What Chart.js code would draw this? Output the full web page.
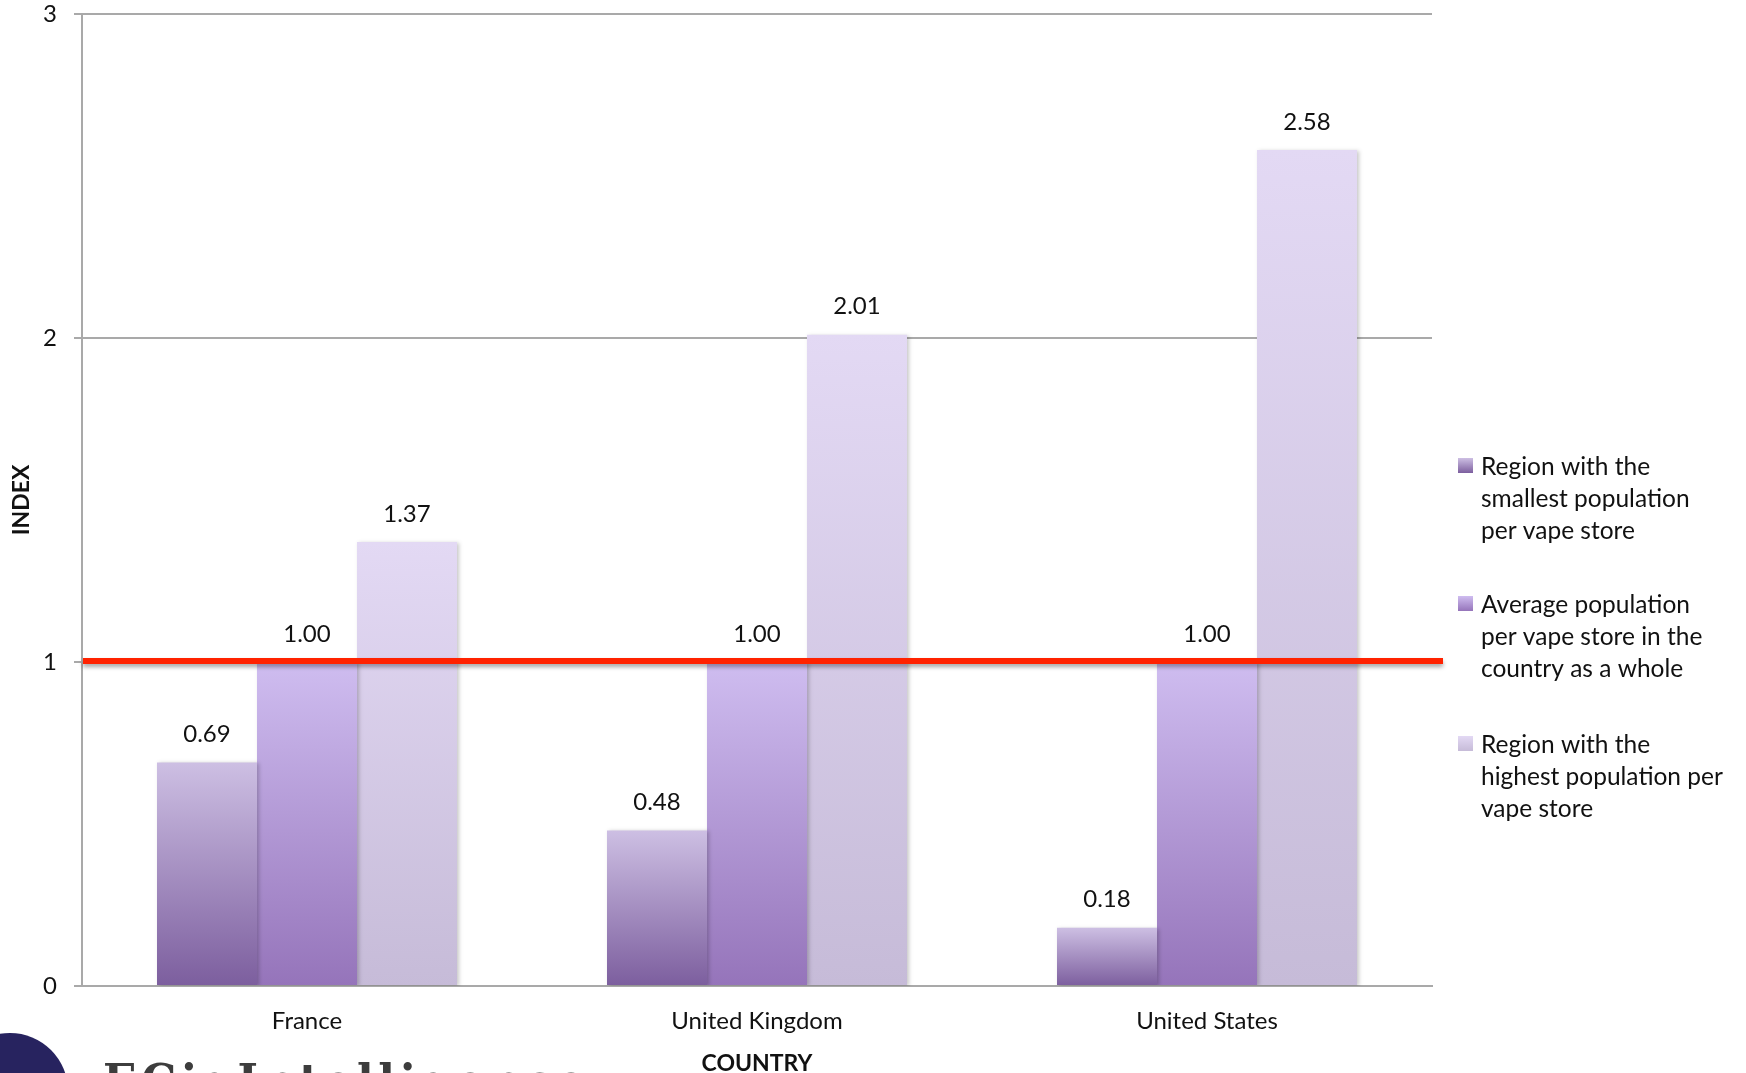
<!DOCTYPE html>
<html>
<head>
<meta charset="utf-8">
<script src="https://cdn.jsdelivr.net/npm/chart.js@4.4.1/dist/chart.umd.min.js"></script>
<style>
html,body{margin:0;padding:0;background:#ffffff;overflow:hidden}
#wrap{position:relative;width:1746px;height:1073px}
canvas{display:block}
</style>
</head>
<body>
<div id="wrap"><canvas id="c" width="1746" height="1073"></canvas></div>
<script>
// ---- data ----
const categories = ['France', 'United Kingdom', 'United States'];
const smallestRegion = [0.69, 0.48, 0.18];
const countryAverage = [1.00, 1.00, 1.00];
const highestRegion = [1.37, 2.01, 2.58];
const yTickValues = [0, 1, 2, 3];
const seriesLabels = [
  ['Region with the', 'smallest population', 'per vape store'],
  ['Average population', 'per vape store in the', 'country as a whole'],
  ['Region with the', 'highest population per', 'vape store']
];
const referenceValue = 1;
const xAxisTitle = 'COUNTRY';
const yAxisTitle = 'INDEX';
const logoText = 'ECigIntelligence';

// ---- styles ----
const FONT = 'Lato';
const GRID = '#a9a9a9';
const gradients = [
  ['#cdbfe3', '#7c5e9e'],
  ['#cfbdf0', '#9574ba'],
  ['#e3d9f4', '#c6bbd8']
];

function barGradient(idx) {
  return function (ctx) {
    const chart = ctx.chart;
    const [cTop, cBot] = gradients[idx];
    if (!chart.chartArea || ctx.type !== 'data') return cBot;
    const ys = chart.scales.y;
    const top = ys.getPixelForValue(ctx.raw);
    const bot = ys.getPixelForValue(0);
    if (!isFinite(top) || !isFinite(bot) || top === bot) return cBot;
    const g = chart.ctx.createLinearGradient(0, top, 0, bot);
    g.addColorStop(0, cTop);
    g.addColorStop(1, cBot);
    return g;
  };
}

const shadowPlugin = {
  id: 'shadows',
  beforeDatasetsDraw(chart) {
    const c = chart.ctx;
    c.save();
    c.shadowColor = 'rgba(0,0,0,0.22)';
    c.shadowBlur = 4;
    c.shadowOffsetX = 2;
    c.shadowOffsetY = 1;
  },
  afterDatasetsDraw(chart) {
    const c = chart.ctx;
    c.restore();
    const ys = chart.scales.y;
    const ca = chart.chartArea;
    // reference line
    const yRef = ys.getPixelForValue(referenceValue) - 1;
    c.save();
    c.shadowColor = 'rgba(0,0,0,0.35)';
    c.shadowBlur = 4;
    c.shadowOffsetY = 3;
    c.strokeStyle = '#ff2200';
    c.lineWidth = 6;
    c.beginPath();
    c.moveTo(ca.left + 1, yRef);
    c.lineTo(ca.right + 11, yRef);
    c.stroke();
    c.restore();
    // value labels
    c.save();
    c.font = '24px ' + FONT;
    c.fillStyle = '#111111';
    c.textAlign = 'center';
    c.textBaseline = 'middle';
    chart.data.datasets.forEach((ds, i) => {
      const meta = chart.getDatasetMeta(i);
      meta.data.forEach((el, j) => {
        c.fillText(Number(ds.data[j]).toFixed(2), el.x, el.y - 28);
      });
    });
    c.restore();
  }
};

const legendPlugin = {
  id: 'customLegend',
  afterDraw(chart) {
    const c = chart.ctx;
    const itemTops = [467, 605, 745];
    const lineH = 32;
    c.save();
    c.font = '24.5px ' + FONT;
    c.textAlign = 'left';
    c.textBaseline = 'middle';
    chart.data.datasets.forEach((ds, i) => {
      const y0 = itemTops[i];
      const bx = 1458, by = y0 - 9, bs = 15;
      const g = c.createLinearGradient(0, by, 0, by + bs);
      g.addColorStop(0, gradients[i][0]);
      g.addColorStop(1, gradients[i][1]);
      c.fillStyle = g;
      c.fillRect(bx, by, bs, bs);
      c.fillStyle = '#111111';
      ds.label.forEach((line, k) => {
        c.fillText(line, 1481, y0 + k * lineH);
      });
    });
    c.restore();
  }
};

const logoPlugin = {
  id: 'logo',
  afterDraw(chart) {
    const c = chart.ctx;
    c.save();
    c.fillStyle = '#27235f';
    c.beginPath();
    c.arc(10, 1091, 58, 0, Math.PI * 2);
    c.fill();
    c.font = 'bold 44px "DejaVu Serif"';
    c.letterSpacing = '0px';
    const w0 = c.measureText(logoText).width;
    const sp = (482 - w0) / (logoText.length - 1);
    c.letterSpacing = sp + 'px';
    const asc = c.measureText('E').actualBoundingBoxAscent;
    c.fillStyle = '#3d3d3d';
    c.textBaseline = 'alphabetic';
    c.textAlign = 'left';
    c.fillText(logoText, 103, 1063 + asc);
    c.restore();
  }
};

Chart.defaults.font.family = FONT;
Chart.defaults.color = '#111111';

new Chart(document.getElementById('c'), {
  type: 'bar',
  data: {
    labels: categories,
    datasets: [
      { label: seriesLabels[0], data: smallestRegion, backgroundColor: barGradient(0) },
      { label: seriesLabels[1], data: countryAverage, backgroundColor: barGradient(1) },
      { label: seriesLabels[2], data: highestRegion, backgroundColor: barGradient(2) }
    ]
  },
  options: {
    responsive: false,
    animation: false,
    devicePixelRatio: 1,
    layout: { padding: { top: 14, right: 314, bottom: 0, left: 0 } },
    datasets: { bar: { barPercentage: 1.0, categoryPercentage: 300 / 450, borderWidth: 0 } },
    plugins: { legend: { display: false }, tooltip: { enabled: false } },
    scales: {
      x: {
        grid: { display: false, drawTicks: false },
        border: { display: true, color: GRID, width: 2 },
        ticks: { padding: 21, font: { size: 24 }, color: '#111111' },
        title: { display: true, text: xAxisTitle, font: { size: 23, weight: 'bold' }, color: '#111111', padding: { top: 0, bottom: -4 } },
        afterFit(s) { s.height = 87; s.paddingLeft = 0; s.paddingRight = 0; }
      },
      y: {
        min: 0, max: 3,
        afterBuildTicks(s) { s.ticks = yTickValues.map(v => ({ value: v })); },
        grid: { color: GRID, lineWidth: 2, drawTicks: true, tickLength: 8, tickColor: GRID },
        border: { display: true, color: GRID, width: 2 },
        ticks: { padding: 17, font: { size: 24 }, color: '#111111', callback: v => String(v) },
        title: { display: true, text: yAxisTitle, font: { size: 23, weight: 'bold' }, color: '#111111', padding: { top: 8, bottom: 0 } },
        afterFit(s) { s.width = 82; s.paddingTop = 0; s.paddingBottom = 0; }
      }
    }
  },
  plugins: [shadowPlugin, legendPlugin, logoPlugin]
});
</script>
</body>
</html>
